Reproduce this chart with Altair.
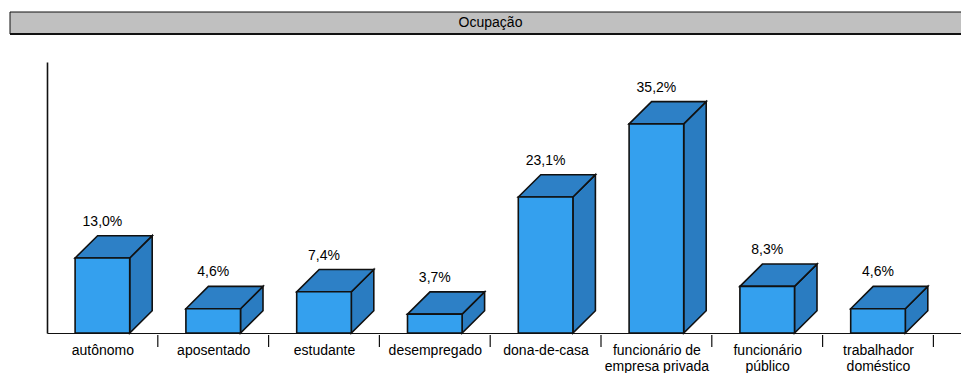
import json

import altair as alt
import pandas as pd

# Occupation breakdown (% of respondents)
CATEGORIES = [
    "autônomo",
    "aposentado",
    "estudante",
    "desempregado",
    "dona-de-casa",
    "funcionário de\nempresa privada",
    "funcionário\npúblico",
    "trabalhador\ndoméstico",
]
VALUES = [13.0, 4.6, 7.4, 3.7, 23.1, 35.2, 8.3, 4.6]
TITLE = "Ocupação"

# Plot geometry
PLOT_W, PLOT_H = 914, 271
SLOT_PX = 110.8                      # width of one category slot in pixels
X_MAX = PLOT_W / SLOT_PX
Y_FLOOR, Y_MAX = 0.58, 45.45         # floor of the 3D box and top of the value axis
PX_PER_Y = PLOT_H / (Y_MAX - Y_FLOOR)
BAR_HALF = 27.3 / SLOT_PX            # half width of the front face
DEPTH_X = 22.5 / SLOT_PX             # 3D depth, horizontal part
DEPTH_Y = 22.3 / PX_PER_Y            # 3D depth, vertical part

FRONT = "#34A0EE"
TOP = "#2D80C6"
SIDE = "#2A7CC1"
EDGE = "#111111"
FONT = "Liberation Sans"

front_rows, top_rows, side_rows, label_rows = [], [], [], []
for i, v in enumerate(VALUES):
    c = i + 0.5
    x0, x1 = c - BAR_HALF, c + BAR_HALF
    front_rows.append({"bar": i, "x": x0, "x2": x1, "y": v, "y2": Y_FLOOR})
    for x, y, y2 in [
        (x0, v, v),
        (x0 + DEPTH_X, v + DEPTH_Y, v),
        (x1, v + DEPTH_Y, v),
        (x1 + DEPTH_X, v + DEPTH_Y, v + DEPTH_Y),
    ]:
        top_rows.append({"bar": i, "x": x, "y": y, "y2": y2})
    for x, y, y2 in [
        (x1, v, Y_FLOOR),
        (x1 + DEPTH_X, v + DEPTH_Y, Y_FLOOR + DEPTH_Y),
    ]:
        side_rows.append({"bar": i, "x": x, "y": y, "y2": y2})
    label_rows.append({"x": c, "y": v + DEPTH_Y,
                       "text": f"{v:.1f}".replace(".", ",") + "%"})

front_df = pd.DataFrame(front_rows)
top_df = pd.DataFrame(top_rows)
side_df = pd.DataFrame(side_rows)
label_df = pd.DataFrame(label_rows)
tick_df = pd.DataFrame({
    "x": list(range(1, len(CATEGORIES) + 1)),
    "y": Y_FLOOR - 2 / PX_PER_Y,
    "y2": Y_FLOOR - 14 / PX_PER_Y,
})

x_scale = alt.Scale(domain=[0, X_MAX], nice=False, zero=False)
y_scale = alt.Scale(domain=[Y_FLOOR, Y_MAX], nice=False, zero=False)

label_lines = json.dumps([c.split("\n") for c in CATEGORIES], ensure_ascii=False)
x_axis = alt.Axis(
    values=[i + 0.5 for i in range(len(CATEGORIES))],
    labelExpr=f"{label_lines}[floor(datum.value)]",
    title=None, ticks=False, grid=False,
    domainColor=EDGE, domainWidth=1.2,
    labelFont=FONT, labelFontSize=14, labelColor="black",
    labelPadding=10, labelLineHeight=16,
    labelOverlap=False, labelFlush=False, labelBound=False,
)
y_axis = alt.Axis(
    title=None, ticks=False, labels=False, grid=False,
    domainColor=EDGE, domainWidth=1.6,
)

X = alt.X("x:Q", scale=x_scale, axis=x_axis)
Y = alt.Y("y:Q", scale=y_scale, axis=y_axis, stack=None)

side = alt.Chart(side_df).mark_area(
    orient="vertical", color=SIDE, stroke=EDGE, strokeWidth=1.6, strokeJoin="miter"
).encode(x=X, y=Y, y2="y2:Q", detail="bar:N")

top = alt.Chart(top_df).mark_area(
    orient="vertical", color=TOP, stroke=EDGE, strokeWidth=1.6, strokeJoin="miter"
).encode(x=X, y=Y, y2="y2:Q", detail="bar:N")

front = alt.Chart(front_df).mark_rect(
    color=FRONT, stroke=EDGE, strokeWidth=1.6
).encode(x=X, x2="x2:Q", y=Y, y2="y2:Q")

labels = alt.Chart(label_df).mark_text(
    font=FONT, fontSize=14, color="black", baseline="alphabetic", dy=-10
).encode(x=X, y=Y, text="text:N")

ticks = alt.Chart(tick_df).mark_rule(color=EDGE, strokeWidth=1.2).encode(
    x=X, y=Y, y2="y2:Q"
)

one = pd.DataFrame({"t": [TITLE]})
title_box = alt.Chart(one).mark_rect(
    fill="#C0C0C0", stroke=EDGE, strokeWidth=1
).encode(x=alt.value(-37), x2=alt.value(PLOT_W + 60),
         y=alt.value(-50), y2=alt.value(-28))
title_shadow = alt.Chart(one).mark_rule(color=EDGE, strokeWidth=2).encode(
    x=alt.value(-37), x2=alt.value(PLOT_W + 60), y=alt.value(-28)
)
title_text = alt.Chart(one).mark_text(
    font=FONT, fontSize=14, color="black", baseline="middle", align="center"
).encode(x=alt.value(443.5), y=alt.value(-39), text="t:N")

chart = alt.layer(
    title_box, title_shadow, title_text, side, top, front, ticks, labels
).properties(
    width=PLOT_W,
    height=PLOT_H,
    autosize=alt.AutoSizeParams(type="none"),
    padding={"left": 47, "top": 62, "right": 0, "bottom": 40},
    background="white",
).configure_view(stroke=None)

chart.save("out.html", embed_options={"renderer": "svg", "actions": False})
